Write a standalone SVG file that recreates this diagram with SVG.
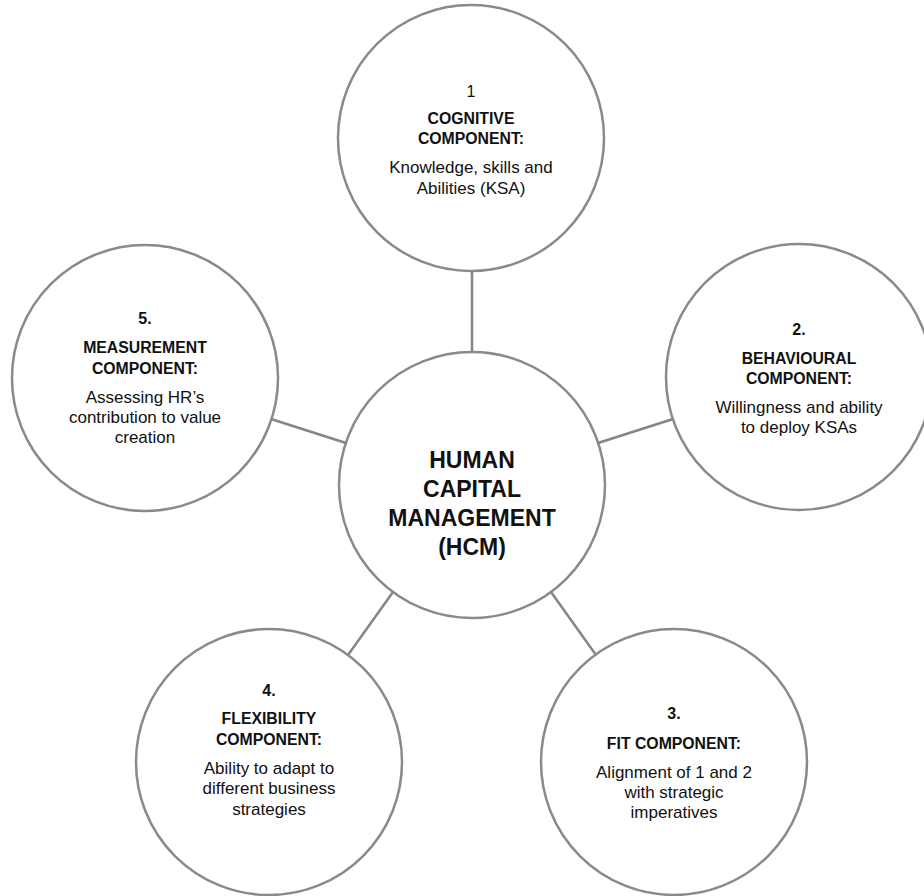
<svg xmlns="http://www.w3.org/2000/svg" width="924" height="896" viewBox="0 0 924 896">
  <style>
    .ring { fill: #ffffff; stroke: #8a8a8a; stroke-width: 2.5; }
    .link { stroke: #858585; stroke-width: 2.5; fill: none; }
    text { font-family: "Liberation Sans", Arial, sans-serif; fill: #111111; text-anchor: middle; }
    .num { font-size: 16px; }
    .numb { font-size: 16px; font-weight: bold; }
    .head { font-size: 15.8px; font-weight: bold; }
    .body { font-size: 17px; }
    .core { font-size: 23px; font-weight: bold; }
  </style>
  <rect width="924" height="896" fill="#ffffff"/>

  <!-- spokes from the hub to each component -->
  <g id="connectors">
    <line class="link" x1="472" y1="271" x2="472" y2="352"/>
    <line class="link" x1="598" y1="443" x2="673" y2="419"/>
    <line class="link" x1="551" y1="592" x2="596" y2="655"/>
    <line class="link" x1="393" y1="592" x2="348" y2="655"/>
    <line class="link" x1="346" y1="443" x2="271" y2="419"/>
  </g>

  <g id="hub">
    <circle class="ring" cx="472" cy="485" r="133"/>
    <text class="core" x="472" y="468">HUMAN</text>
    <text class="core" x="472" y="497">CAPITAL</text>
    <text class="core" x="472" y="526">MANAGEMENT</text>
    <text class="core" x="472" y="555">(HCM)</text>
  </g>

  <g id="cognitive">
    <circle class="ring" cx="471" cy="138" r="133"/>
    <text class="num" x="471" y="97">1</text>
    <text class="head" x="471" y="124">COGNITIVE</text>
    <text class="head" x="471" y="144">COMPONENT:</text>
    <text class="body" x="471" y="173">Knowledge, skills and</text>
    <text class="body" x="471" y="194">Abilities (KSA)</text>
  </g>

  <g id="behavioural">
    <circle class="ring" cx="799" cy="377" r="133"/>
    <text class="numb" x="799" y="335">2.</text>
    <text class="head" x="799" y="364">BEHAVIOURAL</text>
    <text class="head" x="799" y="384">COMPONENT:</text>
    <text class="body" x="799" y="413">Willingness and ability</text>
    <text class="body" x="799" y="433">to deploy KSAs</text>
  </g>

  <g id="fit">
    <circle class="ring" cx="674" cy="762" r="133"/>
    <text class="numb" x="674" y="719">3.</text>
    <text class="head" x="674" y="749">FIT COMPONENT:</text>
    <text class="body" x="674" y="778">Alignment of 1 and 2</text>
    <text class="body" x="674" y="798">with strategic</text>
    <text class="body" x="674" y="818">imperatives</text>
  </g>

  <g id="flexibility">
    <circle class="ring" cx="269" cy="762" r="133"/>
    <text class="numb" x="269" y="696">4.</text>
    <text class="head" x="269" y="724">FLEXIBILITY</text>
    <text class="head" x="269" y="745">COMPONENT:</text>
    <text class="body" x="269" y="774">Ability to adapt to</text>
    <text class="body" x="269" y="794">different business</text>
    <text class="body" x="269" y="815">strategies</text>
  </g>

  <g id="measurement">
    <circle class="ring" cx="145" cy="378" r="133"/>
    <text class="numb" x="145" y="324">5.</text>
    <text class="head" x="145" y="353">MEASUREMENT</text>
    <text class="head" x="145" y="374">COMPONENT:</text>
    <text class="body" x="145" y="403">Assessing HR’s</text>
    <text class="body" x="145" y="423">contribution to value</text>
    <text class="body" x="145" y="443">creation</text>
  </g>
</svg>
